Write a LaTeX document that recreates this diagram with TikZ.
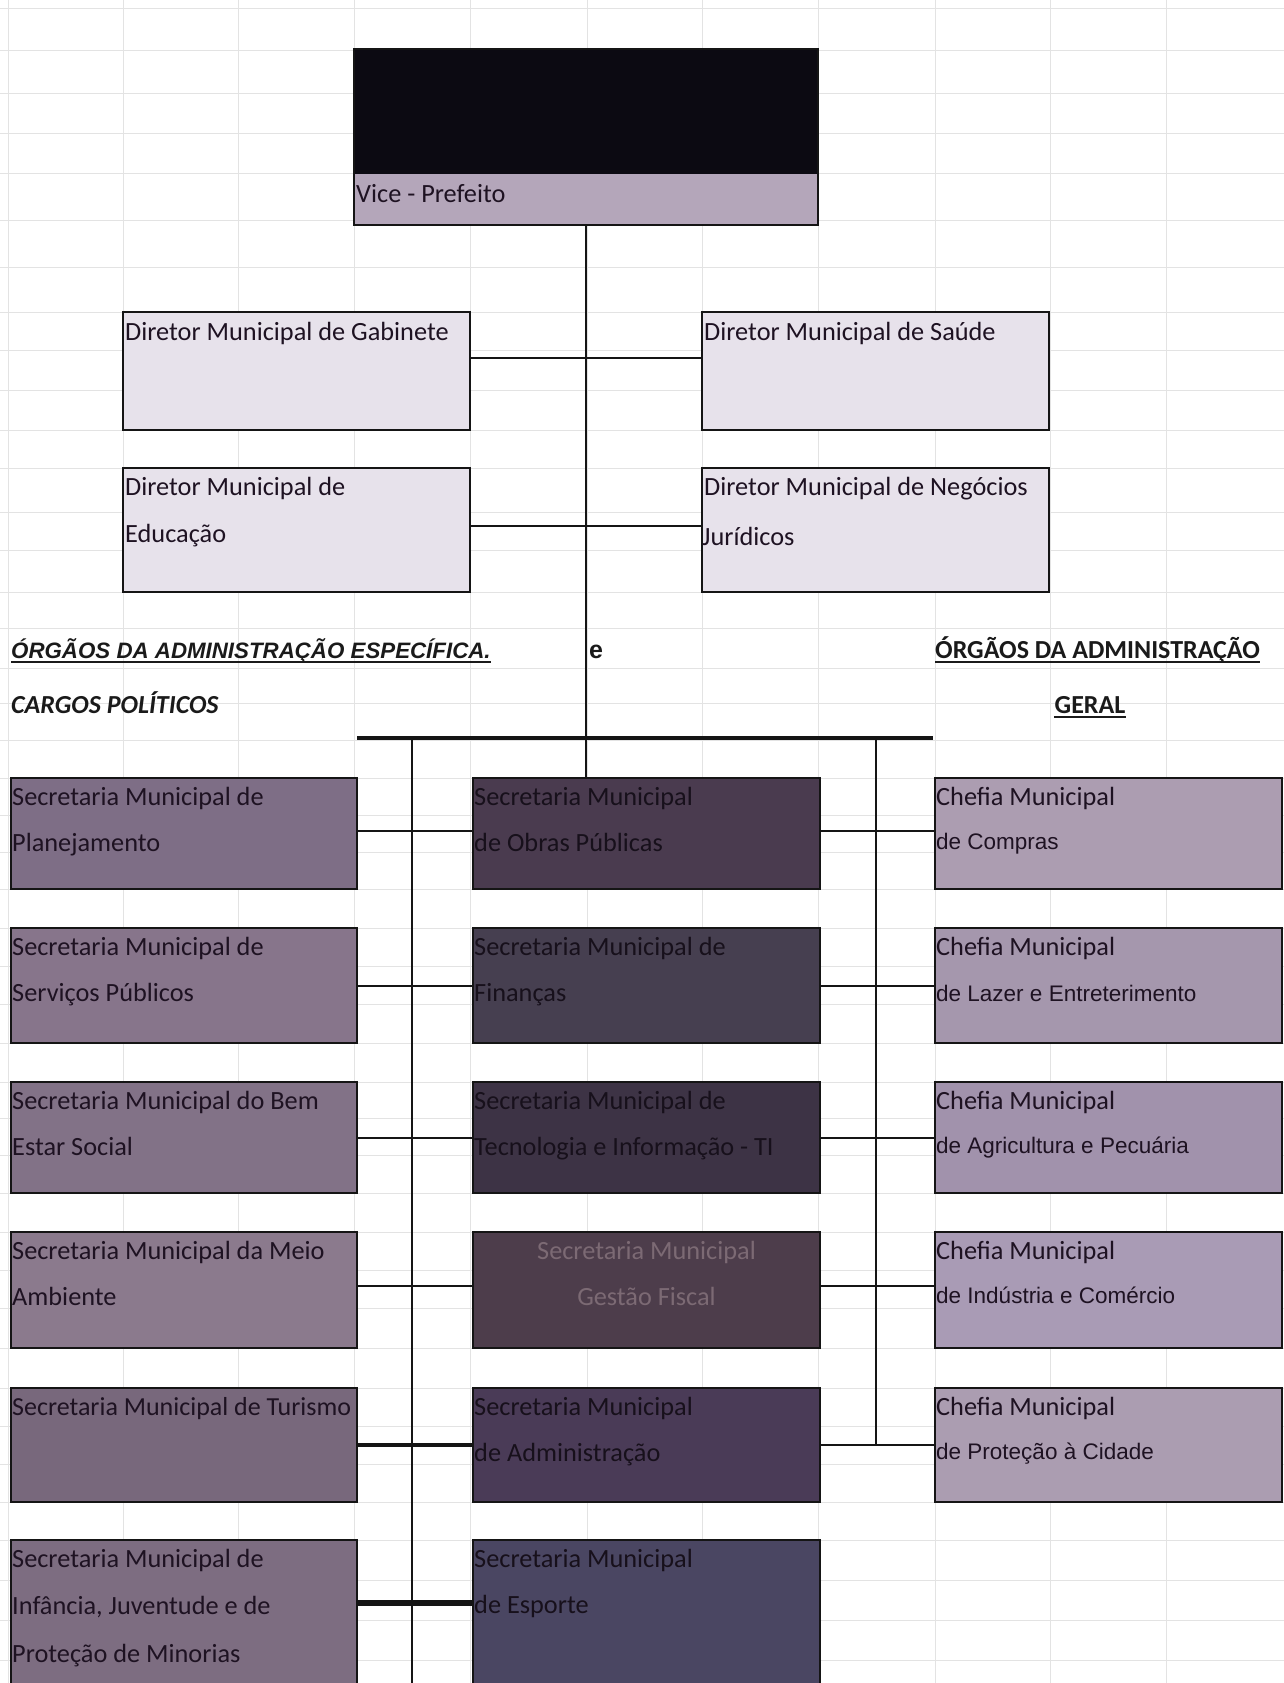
\documentclass[tikz,border=0pt]{standalone}
\usepackage{fontspec}
\setmainfont{Carlito}
\newfontfamily\arialf{Liberation Sans}
\usetikzlibrary{calc}
\definecolor{gridc}{HTML}{E3E3E3}
\definecolor{linec}{HTML}{151515}
\definecolor{topblk}{HTML}{0C0A12}
\definecolor{vicec}{HTML}{B4A6BA}
\definecolor{dirc}{HTML}{E7E2EB}
\definecolor{lA}{HTML}{7E6E86}
\definecolor{lB}{HTML}{87758B}
\definecolor{lC}{HTML}{827287}
\definecolor{lD}{HTML}{8B7A8D}
\definecolor{lE}{HTML}{78687C}
\definecolor{lF}{HTML}{7D6D81}
\definecolor{mA}{HTML}{4A3B4F}
\definecolor{mB}{HTML}{463F50}
\definecolor{mC}{HTML}{3D3345}
\definecolor{mD}{HTML}{4D3D4B}
\definecolor{mE}{HTML}{4A3B57}
\definecolor{mF}{HTML}{4A4662}
\definecolor{rA}{HTML}{AC9DB1}
\definecolor{rB}{HTML}{A597AD}
\definecolor{rC}{HTML}{A192AC}
\definecolor{rD}{HTML}{A99BB5}
\definecolor{rE}{HTML}{AB9DB1}
\definecolor{txtd}{HTML}{1E1222}
\definecolor{txtm}{HTML}{17101B}
\definecolor{txtg}{HTML}{7C6A74}
\definecolor{headc}{HTML}{1A1A1A}
\begin{document}
\begin{tikzpicture}[x=1pt,y=-1pt,
  box/.style={draw=linec, line width=2.5pt, anchor=north west, inner sep=0pt, outer sep=0pt},
  colL/.style={box, minimum width=346pt},
  colM/.style={box, minimum width=347pt},
  colR/.style={box, minimum width=347pt},
  txt/.style={anchor=base west, inner sep=0pt, text=txtd, font=\fontsize{26.3pt}{30pt}\selectfont},
  atxt/.style={anchor=base west, inner sep=0pt, text=txtd, font=\arialf\fontsize{22.5pt}{26pt}\selectfont},
  mtxt/.style={txt, text=txtm},
  head/.style={anchor=base west, inner sep=0pt, text=headc, font=\fontsize{26pt}{30pt}\selectfont\bfseries},
  ahead/.style={head, font=\arialf\fontsize{22.3pt}{26pt}\selectfont\bfseries},
  ulinestyle/.style={draw=headc, line width=1.8pt},
  conn/.style={draw=linec, line width=2pt},
  thickconn/.style={draw=linec, line width=4pt},
  heavyconn/.style={draw=linec, line width=6pt},
  busline/.style={draw=linec, line width=4pt}
]
\useasboundingbox (0,0) rectangle (1284,1683);
\fill[white] (0,0) rectangle (1284,1683);
\begin{scope}
\clip (0,0) rectangle (1284,1683);
% spreadsheet grid
\foreach \gx in {8,123,238,354,470,587,702,818,935,1050,1166}
  \draw[gridc, line width=0.8pt] (\gx,0) -- (\gx,1683);
\foreach \gy in {8,50,93,133,173,220,267,312,350,390,430,468,512,550,592,628,668,703,740,778,815,852,889,928,966,1004,1043,1082,1118,1155,1193,1232,1270,1308,1348,1388,1426,1464,1502,1540,1580,1620,1660}
  \draw[gridc, line width=0.8pt] (0,\gy) -- (1284,\gy);

% top box
\node[box, fill=vicec, minimum width=464pt, minimum height=176pt] (top) at (354,49) {};
\fill[topblk] (354,49) rectangle (818,174);
\draw[draw=linec, line width=2.5pt] (top.north west) rectangle (top.south east);
\node[txt, text=txtd, xshift=2pt, yshift=-153pt] (vice) at (top.north west) {Vice - Prefeito};

% directors
\node[box, fill=dirc, minimum width=347pt, minimum height=118pt] (gab) at (123,312) {};
\node[box, fill=dirc, minimum width=347pt, minimum height=118pt] (sau) at (702,312) {};
\node[box, fill=dirc, minimum width=347pt, minimum height=124pt] (edu) at (123,468) {};
\node[box, fill=dirc, minimum width=347pt, minimum height=124pt] (neg) at (702,468) {};
\node[txt, xshift=2pt, yshift=-28pt] (gab1) at (gab.north west) {Diretor Municipal de Gabinete};
\node[txt, xshift=2pt, yshift=-28pt] (sau1) at (sau.north west) {Diretor Municipal de Saúde};
\node[txt, xshift=2pt, yshift=-27pt] (edu1) at (edu.north west) {Diretor Municipal de};
\node[txt, xshift=2pt, yshift=-74pt] (edu2) at (edu.north west) {Educação};
\node[txt, xshift=2pt, yshift=-27pt] (neg1) at (neg.north west) {Diretor Municipal de Negócios};
\node[txt, xshift=0pt, yshift=-77pt] (neg2) at (neg.north west) {Jurídicos};

% headings
\node[ahead, font=\arialf\fontsize{22.3pt}{26pt}\selectfont\bfseries\itshape] (h1) at (11,658) {ÓRGÃOS DA ADMINISTRAÇÃO ESPECÍFICA.};
\node[ahead, font=\arialf\fontsize{25pt}{28pt}\selectfont\bfseries] (he) at (589,658) {e};
\node[head] (h2) at (935,658) {ÓRGÃOS DA ADMINISTRAÇÃO};
\node[head, font=\fontsize{26pt}{30pt}\selectfont\bfseries\itshape] (h3) at (11,713) {CARGOS POLÍTICOS};
\node[head, anchor=base] (h4) at (1090,713) {GERAL};
\draw[ulinestyle] ([yshift=-4pt]h1.base west) -- ([yshift=-4pt]h1.base east);
\draw[ulinestyle] ([yshift=-4pt]h2.base west) -- ([yshift=-4pt]h2.base east);
\draw[ulinestyle] ([yshift=-4pt]h4.base west) -- ([yshift=-4pt]h4.base east);

% row boxes
\node[colL, fill=lA, minimum height=111pt] (L1) at (11,778) {};
\node[colM, fill=mA, minimum height=111pt] (M1) at (473,778) {};
\node[colR, fill=rA, minimum height=111pt] (R1) at (935,778) {};
\node[colL, fill=lB, minimum height=115pt] (L2) at (11,928) {};
\node[colM, fill=mB, minimum height=115pt] (M2) at (473,928) {};
\node[colR, fill=rB, minimum height=115pt] (R2) at (935,928) {};
\node[colL, fill=lC, minimum height=111pt] (L3) at (11,1082) {};
\node[colM, fill=mC, minimum height=111pt] (M3) at (473,1082) {};
\node[colR, fill=rC, minimum height=111pt] (R3) at (935,1082) {};
\node[colL, fill=lD, minimum height=116pt] (L4) at (11,1232) {};
\node[colM, fill=mD, minimum height=116pt] (M4) at (473,1232) {};
\node[colR, fill=rD, minimum height=116pt] (R4) at (935,1232) {};
\node[colL, fill=lE, minimum height=114pt] (L5) at (11,1388) {};
\node[colM, fill=mE, minimum height=114pt] (M5) at (473,1388) {};
\node[colR, fill=rE, minimum height=114pt] (R5) at (935,1388) {};
\node[colL, fill=lF, minimum height=170pt] (L6) at (11,1540) {};
\node[colM, fill=mF, minimum height=170pt] (M6) at (473,1540) {};

% texts left column
\node[txt, xshift=1pt, yshift=-27pt] (L1a) at (L1.north west) {Secretaria Municipal de};
\node[txt, xshift=1pt, yshift=-73pt] (L1b) at (L1.north west) {Planejamento};
\node[txt, xshift=1pt, yshift=-27pt] (L2a) at (L2.north west) {Secretaria Municipal de};
\node[txt, xshift=1pt, yshift=-73pt] (L2b) at (L2.north west) {Serviços Públicos};
\node[txt, xshift=1pt, yshift=-27pt] (L3a) at (L3.north west) {Secretaria Municipal do Bem};
\node[txt, xshift=1pt, yshift=-73pt] (L3b) at (L3.north west) {Estar Social};
\node[txt, xshift=1pt, yshift=-27pt] (L4a) at (L4.north west) {Secretaria Municipal da Meio};
\node[txt, xshift=1pt, yshift=-73pt] (L4b) at (L4.north west) {Ambiente};
\node[txt, xshift=1pt, yshift=-27pt, font=\fontsize{26pt}{30pt}\selectfont] (L5a) at (L5.north west) {Secretaria Municipal de Turismo};
\node[txt, xshift=1pt, yshift=-27pt] (L6a) at (L6.north west) {Secretaria Municipal de};
\node[txt, xshift=1pt, yshift=-74pt] (L6b) at (L6.north west) {Infância, Juventude e de};
\node[txt, xshift=1pt, yshift=-122pt] (L6c) at (L6.north west) {Proteção de Minorias};

% texts middle column
\node[mtxt, xshift=1pt, yshift=-27pt] (M1a) at (M1.north west) {Secretaria Municipal};
\node[mtxt, xshift=1pt, yshift=-73pt] (M1b) at (M1.north west) {de Obras  Públicas};
\node[mtxt, xshift=1pt, yshift=-27pt] (M2a) at (M2.north west) {Secretaria Municipal de};
\node[mtxt, xshift=1pt, yshift=-73pt] (M2b) at (M2.north west) {Finanças};
\node[mtxt, xshift=1pt, yshift=-27pt] (M3a) at (M3.north west) {Secretaria Municipal de};
\node[mtxt, xshift=1pt, yshift=-73pt] (M3b) at (M3.north west) {Tecnologia e Informação - TI};
\node[mtxt, text=txtg, anchor=base, yshift=-27pt] (M4a) at (M4.north) {Secretaria Municipal};
\node[mtxt, text=txtg, anchor=base, yshift=-73pt] (M4b) at (M4.north) {Gestão Fiscal};
\node[mtxt, xshift=1pt, yshift=-27pt] (M5a) at (M5.north west) {Secretaria Municipal};
\node[mtxt, xshift=1pt, yshift=-73pt] (M5b) at (M5.north west) {de Administração};
\node[mtxt, xshift=1pt, yshift=-27pt] (M6a) at (M6.north west) {Secretaria Municipal};
\node[mtxt, xshift=1pt, yshift=-73pt] (M6b) at (M6.north west) {de Esporte};

% texts right column
\node[txt, xshift=1pt, yshift=-27pt] (R1a) at (R1.north west) {Chefia Municipal};
\node[atxt, xshift=1pt, yshift=-71pt] (R1b) at (R1.north west) {de Compras};
\node[txt, xshift=1pt, yshift=-27pt] (R2a) at (R2.north west) {Chefia Municipal};
\node[atxt, xshift=1pt, yshift=-73pt] (R2b) at (R2.north west) {de Lazer e Entreterimento};
\node[txt, xshift=1pt, yshift=-27pt] (R3a) at (R3.north west) {Chefia Municipal};
\node[atxt, xshift=1pt, yshift=-71pt] (R3b) at (R3.north west) {de Agricultura e Pecuária};
\node[txt, xshift=1pt, yshift=-27pt] (R4a) at (R4.north west) {Chefia Municipal};
\node[atxt, xshift=1pt, yshift=-71pt] (R4b) at (R4.north west) {de Indústria e Comércio};
\node[txt, xshift=1pt, yshift=-27pt] (R5a) at (R5.north west) {Chefia Municipal};
\node[atxt, xshift=1pt, yshift=-71pt] (R5b) at (R5.north west) {de Proteção à Cidade};

% bus and verticals
\coordinate (busL) at (357,738);
\coordinate (busR) at (933,738);
\coordinate (vL) at (412,738);
\coordinate (vLend) at (412,1690);
\coordinate (vR) at (876,738);
\coordinate (vRend) at (876,1445);
\draw[busline] (busL) -- (busR);
\draw[conn] (vL) -- (vLend);
\draw[conn] (vR) -- (vRend);
\draw[conn] (top.south) -- (top.south |- M1.north);

% director connectors
\draw[conn] ([yshift=-46pt]gab.north east) -- ([yshift=-46pt]sau.north west);
\draw[conn] ([yshift=-58pt]edu.north east) -- ([yshift=-58pt]neg.north west);

% row connectors
\draw[conn] ([yshift=-53pt]L1.north east) -- ([yshift=-53pt]M1.north west);
\draw[conn] ([yshift=-53pt]M1.north east) -- ([yshift=-53pt]R1.north west);
\draw[conn] ([yshift=-58pt]L2.north east) -- ([yshift=-58pt]M2.north west);
\draw[conn] ([yshift=-58pt]M2.north east) -- ([yshift=-58pt]R2.north west);
\draw[conn] ([yshift=-56pt]L3.north east) -- ([yshift=-56pt]M3.north west);
\draw[conn] ([yshift=-56pt]M3.north east) -- ([yshift=-56pt]R3.north west);
\draw[conn] ([yshift=-54pt]L4.north east) -- ([yshift=-54pt]M4.north west);
\draw[conn] ([yshift=-54pt]M4.north east) -- ([yshift=-54pt]R4.north west);
\draw[thickconn] ([yshift=-57pt]L5.north east) -- ([yshift=-57pt]M5.north west);
\draw[conn] ([yshift=-57pt]M5.north east) -- ([yshift=-57pt]R5.north west);
\draw[heavyconn] ([yshift=-63pt]L6.north east) -- ([yshift=-63pt]M6.north west);
\end{scope}
\end{tikzpicture}
\end{document}
